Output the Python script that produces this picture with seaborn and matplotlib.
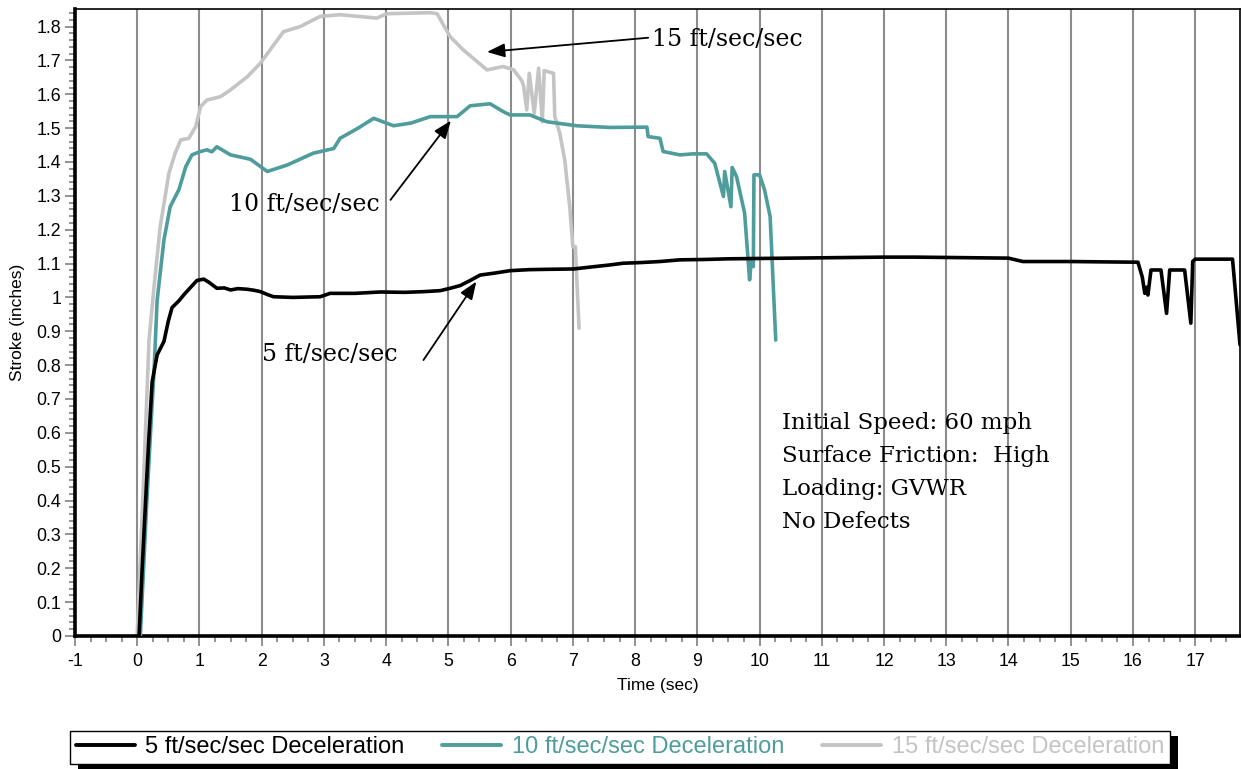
import matplotlib
matplotlib.use("Agg")
import matplotlib.pyplot as plt
from matplotlib.ticker import MultipleLocator, FuncFormatter
from matplotlib.patches import Rectangle
import seaborn as sns
import pandas as pd

sns.set_theme(style="white")
plt.rcParams["font.family"] = ["Liberation Sans", "DejaVu Sans"]
plt.rcParams["text.color"] = "black"
plt.rcParams["axes.labelcolor"] = "black"

# ---- Stroke traces (time in sec, stroke in inches) ----
t_5 = [0.03, 0.08, 0.13, 0.18, 0.24, 0.32, 0.43, 0.50, 0.56, 0.67, 0.76, 0.86, 0.96, 1.07, 1.15,
       1.28, 1.40, 1.50, 1.62, 1.77, 1.88, 1.98, 2.10, 2.19, 2.50, 2.94, 3.10, 3.50, 3.90, 4.30,
       4.60, 4.87, 5.05, 5.19, 5.35, 5.51, 5.75, 5.99, 6.30, 6.60, 7.01, 7.30, 7.60, 7.81, 8.10,
       8.40, 8.72, 9.10, 9.50, 10.00, 10.49, 11.00, 11.50, 12.00, 12.50, 13.00, 13.50, 14.00,
       14.23, 14.60, 15.00, 15.50, 16.08, 16.15, 16.19, 16.22, 16.24, 16.29, 16.45, 16.54,
       16.59, 16.83, 16.93, 16.96, 17.00, 17.60, 17.72]
s_5 = [0.00, 0.20, 0.38, 0.56, 0.75, 0.83, 0.87, 0.93, 0.97, 0.99, 1.01, 1.03, 1.05, 1.054, 1.045,
       1.027, 1.028, 1.022, 1.026, 1.024, 1.021, 1.017, 1.008, 1.002, 1.000, 1.002, 1.012, 1.012,
       1.016, 1.015, 1.017, 1.020, 1.028, 1.035, 1.050, 1.066, 1.072, 1.079, 1.082, 1.083, 1.084,
       1.090, 1.096, 1.101, 1.103, 1.106, 1.111, 1.112, 1.114, 1.115, 1.116, 1.117, 1.118, 1.119,
       1.119, 1.118, 1.117, 1.116, 1.106, 1.106, 1.106, 1.105, 1.104, 1.060, 1.012, 1.030, 1.007,
       1.081, 1.081, 0.953, 1.081, 1.081, 0.924, 1.106, 1.113, 1.113, 0.860]

t_10 = [0.05, 0.15, 0.22, 0.27, 0.32, 0.43, 0.53, 0.67, 0.78, 0.88, 1.00, 1.12, 1.20, 1.28, 1.50,
        1.82, 2.09, 2.41, 2.83, 3.16, 3.26, 3.55, 3.80, 4.12, 4.40, 4.71, 5.14, 5.35, 5.67, 5.88,
        5.99, 6.31, 6.58, 7.06, 7.60, 8.19, 8.21, 8.40, 8.45, 8.72, 8.93, 9.15, 9.28, 9.42, 9.44,
        9.54, 9.56, 9.63, 9.76, 9.84, 9.87, 9.90, 9.91, 10.00, 10.08, 10.17, 10.26]
s_10 = [0.00, 0.38, 0.62, 0.78, 0.99, 1.17, 1.268, 1.318, 1.386, 1.421, 1.430, 1.436, 1.430, 1.445,
        1.421, 1.408, 1.372, 1.391, 1.426, 1.440, 1.470, 1.500, 1.529, 1.507, 1.515, 1.534, 1.534,
        1.566, 1.572, 1.549, 1.539, 1.539, 1.519, 1.507, 1.502, 1.503, 1.475, 1.470, 1.431, 1.421,
        1.424, 1.424, 1.396, 1.298, 1.372, 1.268, 1.384, 1.357, 1.249, 1.052, 1.111, 1.091, 1.362,
        1.362, 1.318, 1.239, 0.874]

t_15 = [0.00, 0.10, 0.19, 0.27, 0.37, 0.51, 0.61, 0.70, 0.83, 0.94, 1.02, 1.12, 1.34, 1.50, 1.77,
        1.98, 2.35, 2.62, 2.94, 3.26, 3.85, 4.01, 4.71, 4.82, 4.92, 5.03, 5.24, 5.46, 5.62, 5.88,
        6.05, 6.18, 6.21, 6.26, 6.30, 6.38, 6.45, 6.51, 6.54, 6.69, 6.71, 6.79, 6.87, 6.95, 7.00,
        7.04, 7.10]
s_15 = [0.00, 0.45, 0.874, 1.03, 1.209, 1.367, 1.426, 1.465, 1.470, 1.505, 1.564, 1.583, 1.593,
        1.613, 1.652, 1.692, 1.785, 1.800, 1.830, 1.835, 1.825, 1.838, 1.841, 1.838, 1.805, 1.770,
        1.731, 1.697, 1.672, 1.682, 1.672, 1.640, 1.623, 1.554, 1.662, 1.544, 1.677, 1.519, 1.670,
        1.662, 1.534, 1.485, 1.406, 1.268, 1.150, 1.150, 0.909]

series_names = ["5 ft/sec/sec Deceleration", "10 ft/sec/sec Deceleration",
                "15 ft/sec/sec Deceleration"]
series_colors = ["#000000", "#4F9C9C", "#C4C4C4"]

info_lines = ["Initial Speed: 60 mph", "Surface Friction:  High", "Loading: GVWR", "No Defects"]

frames = []
for name, t, s in zip(series_names, [t_5, t_10, t_15], [s_5, s_10, s_15]):
    frames.append(pd.DataFrame({"Time (sec)": t, "Stroke (inches)": s, "series": name}))
df = pd.concat(frames, ignore_index=True)

fig = plt.figure(figsize=(12.41, 7.69), dpi=100)
ax = fig.add_axes([0.0604, 0.1730, 0.9388, 0.8149])

sns.lineplot(data=df, x="Time (sec)", y="Stroke (inches)", hue="series",
             hue_order=series_names, palette=series_colors, sort=False,
             estimator=None, linewidth=2.6, ax=ax, legend=False)
# lighter traces drawn beneath the darker ones
for line, z in zip(ax.get_lines(), [4, 3, 2]):
    line.set_zorder(z)
    line.set_solid_joinstyle("round")

ax.set_xlim(-1, 17.72)
ax.set_ylim(0, 1.851)

ax.xaxis.set_major_locator(MultipleLocator(1))
ax.xaxis.set_minor_locator(MultipleLocator(0.25))
ax.yaxis.set_major_locator(MultipleLocator(0.1))
ax.yaxis.set_minor_locator(MultipleLocator(0.02))
ax.yaxis.set_major_formatter(FuncFormatter(lambda v, p: "0" if abs(v) < 1e-9 else
                                           ("1" if abs(v - 1) < 1e-9 else f"{v:.1f}")))
ax.xaxis.set_major_formatter(FuncFormatter(lambda v, p: f"{int(round(v))}"))

ax.tick_params(axis="both", which="both", bottom=True, left=True, top=False, right=False)
ax.tick_params(axis="both", which="major", direction="out", length=7, width=1.2,
               color="#808080", labelsize=12.8, labelcolor="black", pad=3)
ax.tick_params(axis="both", which="minor", direction="out", length=4, width=1.2,
               color="#808080")
ax.tick_params(axis="x", which="major", pad=5)

ax.grid(False)
for xv in range(0, 18):
    ax.axvline(xv, color="#8C8C8C", linewidth=1.5, zorder=1)

for side in ["left", "bottom"]:
    ax.spines[side].set_linewidth(2.6)
    ax.spines[side].set_color("black")
for side in ["top", "right"]:
    ax.spines[side].set_linewidth(1.2)
    ax.spines[side].set_color("black")
    ax.spines[side].set_visible(True)

ax.set_xlabel("Time (sec)", fontsize=12.5, labelpad=6, color="black")
ax.set_ylabel("Stroke (inches)", fontsize=12.5, labelpad=8, color="black")

serif = ["DejaVu Serif"]
arrow_kw = dict(arrowstyle="-|>,head_length=0.9,head_width=0.35", color="black",
                lw=1.3, shrinkA=0, shrinkB=0)
ax.annotate("", xy=(5.62, 1.725), xytext=(8.21, 1.767), arrowprops=arrow_kw, zorder=6)
ax.text(8.27, 1.761, "15 ft/sec/sec", family=serif, fontsize=17, va="center", ha="left",
        color="black")
ax.annotate("", xy=(5.04, 1.522), xytext=(4.07, 1.288), arrowprops=arrow_kw, zorder=6)
ax.text(1.47, 1.273, "10 ft/sec/sec", family=serif, fontsize=17, va="center", ha="left",
        color="black")
ax.annotate("", xy=(5.45, 1.047), xytext=(4.60, 0.815), arrowprops=arrow_kw, zorder=6)
ax.text(2.01, 0.830, "5 ft/sec/sec", family=serif, fontsize=17, va="center", ha="left",
        color="black")

for i, txt in enumerate(info_lines):
    ax.text(10.36, 0.629 - i * 0.0975, txt, family=serif, fontsize=16.5, va="center",
            ha="left", color="black")

handles = [plt.Line2D([], [], color=c, linewidth=2.8) for c in series_colors]
leg = fig.legend(handles, series_names, loc="center", bbox_to_anchor=(0.4996, 0.028),
                 ncol=3, fontsize=17, frameon=True, fancybox=False, handlelength=2.5,
                 handletextpad=0.45, columnspacing=1.6, borderpad=0.25, borderaxespad=0,
                 framealpha=1.0, facecolor="white")
leg.get_frame().set_edgecolor("black")
leg.get_frame().set_linewidth(1.0)
for text, c in zip(leg.get_texts(), series_colors):
    text.set_color(c)

# drop shadow under the legend box
fig.canvas.draw()
bb = leg.get_window_extent()
shadow = Rectangle((bb.x0 + 8, bb.y0 - 5), bb.width, bb.height, transform=None,
                   facecolor="black", edgecolor="none", zorder=leg.get_zorder() - 1)
fig.patches.append(shadow)

fig.savefig("out.png", dpi=100)
